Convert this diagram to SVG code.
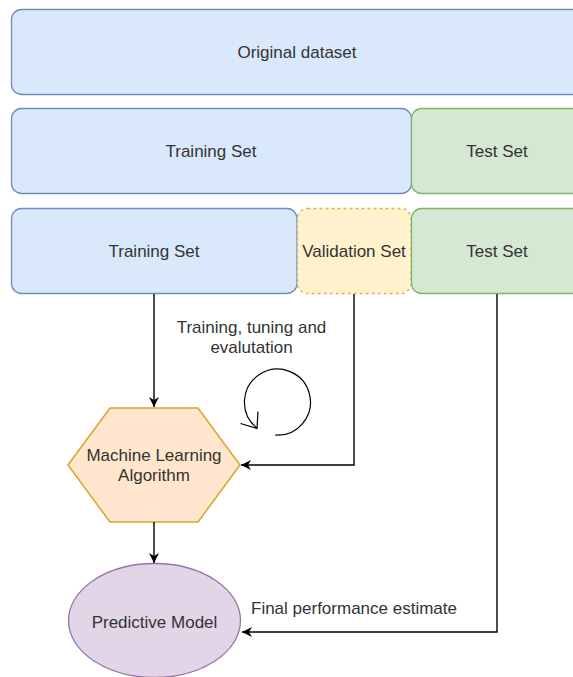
<svg xmlns="http://www.w3.org/2000/svg" width="573" height="677" viewBox="0 0 573 677">
  <style>
    .lbl { font-family: "Liberation Sans", Arial, sans-serif; font-size: 17px; fill: #333333; text-anchor: middle; }
    .blue { fill: #dae8fc; stroke: #6c8ebf; stroke-width: 1.3; }
    .green { fill: #d5e8d4; stroke: #82b366; stroke-width: 1.3; }
    .yellow { fill: #fff2cc; stroke: #d6b656; stroke-width: 1.3; stroke-dasharray: 3 3; }
    .edge { fill: none; stroke: #000000; stroke-width: 1.4; }
  </style>
  <defs>
    <marker id="arrow" viewBox="0 0 10 10" refX="10" refY="5" markerWidth="10" markerHeight="10" markerUnits="userSpaceOnUse" orient="auto">
      <path d="M0,0 L10,5 L0,10 L3,5 z" fill="#000000"/>
    </marker>
  </defs>
  <rect width="573" height="677" fill="#ffffff"/>

  <g id="original-dataset">
    <rect class="blue" x="11.5" y="9.5" width="571" height="85" rx="10"/>
    <text class="lbl" x="297" y="58">Original dataset</text>
  </g>

  <g id="training-set-split">
    <rect class="blue" x="11.5" y="108.5" width="400" height="85" rx="10"/>
    <text class="lbl" x="211" y="157">Training Set</text>
  </g>
  <g id="test-set-split">
    <rect class="green" x="411.5" y="108.5" width="171" height="85" rx="10"/>
    <text class="lbl" x="497" y="157">Test Set</text>
  </g>

  <g id="training-set">
    <rect class="blue" x="11.5" y="208.5" width="285.5" height="85" rx="10"/>
    <text class="lbl" x="154" y="257">Training Set</text>
  </g>
  <g id="validation-set">
    <rect class="yellow" x="297.5" y="208.5" width="113.5" height="85" rx="10"/>
    <text class="lbl" x="354" y="257">Validation Set</text>
  </g>
  <g id="test-set">
    <rect class="green" x="411.5" y="208.5" width="171" height="85" rx="10"/>
    <text class="lbl" x="497" y="257">Test Set</text>
  </g>

  <g id="ml-algorithm">
    <polygon points="68,465 110,408 198,408 240,465 198,522 110,522" fill="#ffe6cc" stroke="#d6a52a" stroke-width="1.5"/>
    <text class="lbl" x="154" y="461">Machine Learning</text>
    <text class="lbl" x="154" y="481">Algorithm</text>
  </g>

  <g id="predictive-model">
    <ellipse cx="154.5" cy="620.5" rx="86" ry="57" fill="#e1d5e7" stroke="#9673a6" stroke-width="1.3"/>
    <text class="lbl" x="154.5" y="628">Predictive Model</text>
  </g>

  <g id="tuning-loop">
    <text class="lbl" x="251.5" y="333">Training, tuning and</text>
    <text class="lbl" x="251.5" y="353">evalutation</text>
    <path d="M275,435 A33,33 0 1 0 257,428" fill="none" stroke="#000000" stroke-width="1.2"/>
    <path d="M240.5,423.5 L257,428.5 L258,411.5" fill="none" stroke="#000000" stroke-width="1.2"/>
  </g>

  <g id="connectors">
    <path class="edge" d="M154,294 L154,407" marker-end="url(#arrow)"/>
    <path class="edge" d="M354,294 L354,465 L241,465" marker-end="url(#arrow)"/>
    <path class="edge" d="M154,522 L154,563" marker-end="url(#arrow)"/>
    <path class="edge" d="M497,294 L497,632 L242,632" marker-end="url(#arrow)"/>
    <text class="lbl" x="251" y="614" style="text-anchor: start">Final performance estimate</text>
  </g>
</svg>
